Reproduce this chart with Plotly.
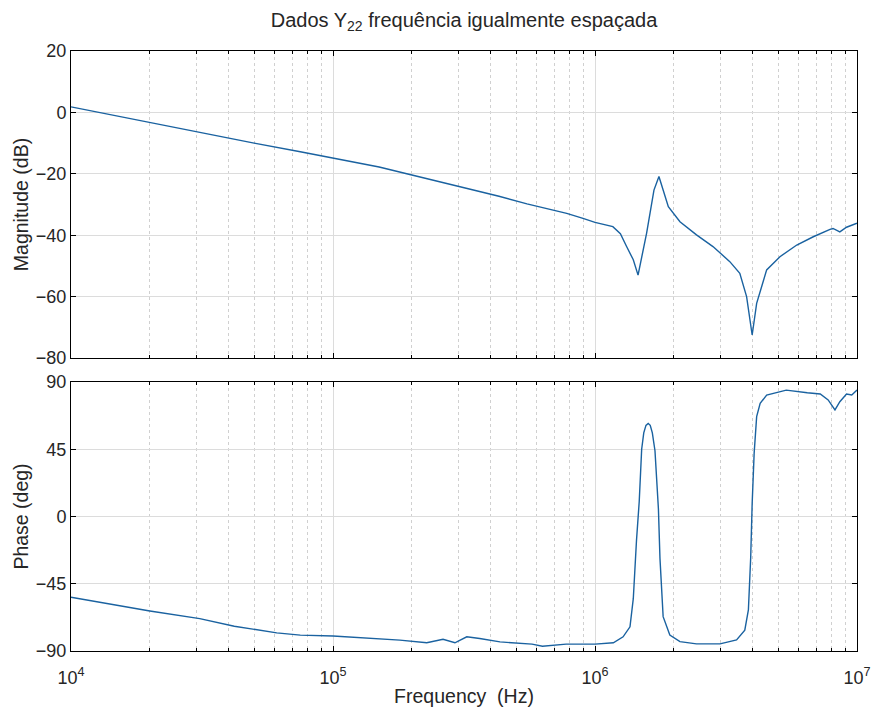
import plotly.graph_objects as go
from plotly.subplots import make_subplots

# ---- data ----
mag_freq = [1.0e4, 1.5e4, 2.0e4, 3.0e4, 5.0e4, 7.5e4, 1.0e5, 1.5e5, 2.0e5, 3.0e5,
            3.3e5, 4.3e5, 5.5e5, 7.8e5, 9.0e5, 1.0e6, 1.17e6, 1.25e6, 1.32e6, 1.40e6,
            1.46e6, 1.574e6, 1.679e6, 1.754e6, 1.82e6, 1.905e6, 2.11e6, 2.44e6, 2.82e6,
            3.27e6, 3.57e6, 3.79e6, 3.98e6, 4.14e6, 4.52e6, 5.08e6, 5.89e6, 6.81e6,
            7.89e6, 8.1e6, 8.6e6, 9.12e6, 1.0e7]
mag_db = [1.8, -1.2, -3.3, -6.2, -10.0, -12.8, -14.8, -17.8, -20.4, -24.0,
          -24.7, -27.3, -29.8, -32.9, -34.5, -35.8, -37.2, -39.5, -43.7, -48.0,
          -53.0, -39.3, -25.3, -20.9, -25.3, -30.7, -35.6, -39.9, -43.7,
          -48.6, -52.4, -60.0, -72.5, -62.2, -51.3, -47.0, -43.2, -40.5,
          -38.1, -37.8, -38.9, -37.4, -36.1]

ph_freq = [1.0e4, 2.0e4, 3.1e4, 4.2e4, 6.1e4, 7.5e4, 1.0e5, 1.35e5, 1.8e5, 2.28e5,
           2.63e5, 2.92e5, 3.24e5, 3.63e5, 4.34e5, 5.75e5, 6.3e5, 7.76e5, 1.0e6,
           1.175e6, 1.28e6, 1.36e6, 1.40e6, 1.44e6, 1.475e6, 1.507e6, 1.535e6,
           1.565e6, 1.596e6, 1.625e6, 1.655e6, 1.694e6, 1.746e6, 1.77e6, 1.82e6,
           1.93e6, 2.11e6, 2.44e6, 3.0e6, 3.47e6, 3.73e6, 3.85e6, 3.93e6, 3.98e6,
           4.05e6, 4.14e6, 4.27e6, 4.52e6, 5.08e6, 5.37e6, 6.46e6, 7.24e6, 7.76e6,
           8.24e6, 8.6e6, 9.12e6, 9.55e6, 1.0e7]
ph_deg = [-54.0, -63.2, -68.3, -73.4, -77.9, -79.4, -80.0, -81.2, -82.7, -84.5,
          -82.2, -84.5, -80.5, -81.6, -83.9, -85.4, -86.8, -85.4, -85.4,
          -84.5, -80.5, -73.8, -55.0, -16.0, 10.0, 45.0, 56.0,
          61.0, 62.3, 61.0, 56.0, 44.0, 5.0, -28.0, -67.0,
          -79.3, -83.7, -85.2, -85.2, -82.6, -76.0, -62.5, -26.9, 8.8,
          42.3, 66.8, 75.7, 81.3, 83.5, 84.6, 82.8, 82.0, 78.0,
          71.3, 76.8, 82.0, 81.3, 84.6]

x_tickvals = [1e4, 1e5, 1e6, 1e7]
x_ticktext = ["10<sup>4</sup>", "10<sup>5</sup>", "10<sup>6</sup>", "10<sup>7</sup>"]
mag_ticks = [-80, -60, -40, -20, 0, 20]
ph_ticks = [-90, -45, 0, 45, 90]

title_text = "Dados Y<sub>22</sub> frequência igualmente espaçada"
mag_label = "Magnitude (dB)"
ph_label = "Phase (deg)"
freq_label = "Frequency  (Hz)"

LINE = "#1a62a0"
FONT = "Liberation Sans, Arial, Helvetica, sans-serif"
TXT = "#262626"
GRID = "#dcdcdc"
MINOR = "#d0d0d0"

W, H = 873, 713

fig = make_subplots(rows=2, cols=1, shared_xaxes=False)
fig.add_trace(go.Scatter(x=mag_freq, y=mag_db, mode="lines",
                         line=dict(color=LINE, width=1.4), showlegend=False), row=1, col=1)
fig.add_trace(go.Scatter(x=ph_freq, y=ph_deg, mode="lines",
                         line=dict(color=LINE, width=1.4), showlegend=False), row=2, col=1)

common_x = dict(type="log", range=[4, 7], tickvals=x_tickvals,
                ticks="inside", ticklen=5, tickcolor="black", mirror="allticks",
                showline=True, linecolor="black", linewidth=1,
                showgrid=True, gridcolor=GRID, gridwidth=1, zeroline=False,
                minor=dict(dtick="D1", ticks="inside", ticklen=3, tickcolor="black",
                           showgrid=True, gridcolor=MINOR, griddash="dot", gridwidth=1),
                tickfont=dict(family=FONT, size=18, color=TXT))
common_y = dict(ticks="inside", ticklen=5, tickcolor="black", mirror="allticks",
                showline=True, linecolor="black", linewidth=1,
                showgrid=True, gridcolor=GRID, gridwidth=1, zeroline=False,
                tickfont=dict(family=FONT, size=18, color=TXT))

fig.update_xaxes(**common_x, showticklabels=False, domain=[0, 1], row=1, col=1)
fig.update_xaxes(**common_x, showticklabels=True, ticktext=x_ticktext, domain=[0, 1],
                 ticklabelstandoff=10, ticklabeloverflow="allow",
                 title=dict(text=freq_label, font=dict(family=FONT, size=19.5, color=TXT), standoff=2),
                 row=2, col=1)
fig.update_yaxes(**common_y, range=[-80, 20], tickvals=mag_ticks, domain=[0.4883, 1.0],
                 title=dict(text=mag_label, font=dict(family=FONT, size=19.5, color=TXT), standoff=2),
                 row=1, col=1)
fig.update_yaxes(**common_y, range=[-90, 90], tickvals=ph_ticks, domain=[0.0, 0.4483],
                 title=dict(text=ph_label, font=dict(family=FONT, size=19.5, color=TXT), standoff=2),
                 row=2, col=1)

fig.update_layout(
    width=W, height=H,
    margin=dict(l=71, r=16, t=51, b=62),
    paper_bgcolor="white", plot_bgcolor="white",
    title=dict(text=title_text, x=0.5, xref="paper", xanchor="center", y=1 - 20 / H,
               yanchor="middle", yref="container",
               font=dict(family=FONT, size=20, color=TXT)),
    font=dict(family=FONT, color=TXT),
)
for ax in ["xaxis", "xaxis2", "yaxis", "yaxis2"]:
    fig.layout[ax].automargin = False

fig.write_html("out.html", config={"displayModeBar": False},
               post_script="document.body.style.margin='0';document.body.style.overflow='hidden';")
